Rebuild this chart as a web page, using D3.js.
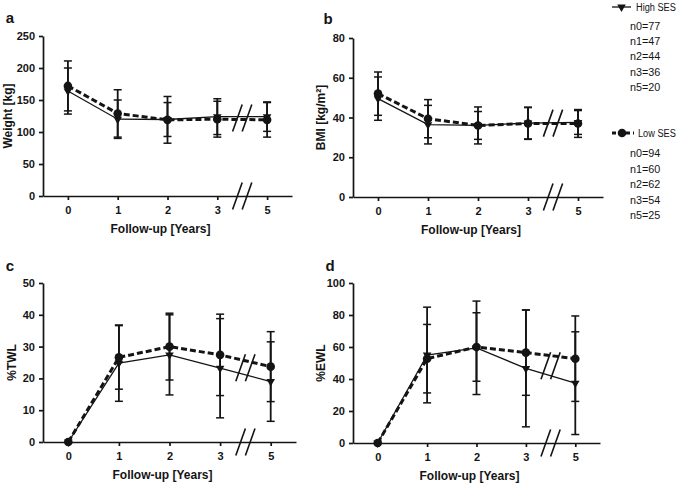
<!DOCTYPE html>
<html><head><meta charset="utf-8">
<script src="https://cdn.jsdelivr.net/npm/d3@7"></script>
<style>body{margin:0;background:#fff}svg{display:block}</style>
</head><body>
<script>
// ---- data ----
const years = ["0","1","2","3","5"];
const weightTicks = [0,50,100,150,200,250];
const bmiTicks = [0,20,40,60,80];
const twlTicks = [0,10,20,30,40,50];
const ewlTicks = [0,20,40,60,80,100];

const weightHigh = [164,120,119.5,124,124];
const weightHighSD = [36,30,26.5,28,23];
const weightLow = [172,129,119,120,119];
const weightLowSD = [39,37,36.5,28,27];

const bmiHigh = [49.5,36.4,36,37.2,37.5];
const bmiHighSD = [10.9,9.7,7,8,6];
const bmiLow = [52,39.4,36,37,37];
const bmiLowSD = [10.9,9.6,9.3,8,7];

const twlHigh = [0,24.8,27.4,23.2,19.0];
const twlHighSD = [0,12,12.6,15.6,12.5];
const twlLow = [0,26.6,30.0,27.4,23.7];
const twlLowSD = [0,10,10.5,12.8,11];

const ewlHigh = [0,55,59.5,46.6,37.4];
const ewlHighSD = [0,29.9,29.2,36.5,32.1];
const ewlLow = [0,52.7,60,56.5,52.7];
const ewlLowSD = [0,21.4,21.4,26.7,26.7];

const nLabels = ["n0","n1","n2","n3","n5"];
const nHigh = [77,47,44,36,20];
const nLow = [94,60,62,54,25];

// ---- drawing ----
const FONT = "'Liberation Sans', Arial, Helvetica, sans-serif";
const INK = "#141414";
const svg = d3.select("body").append("svg").attr("width",677).attr("height",483);

function panel(cfg){
  const g = svg.append("g");
  const x = d3.scalePoint().domain(years).range([cfg.x0, cfg.x1]).padding(0.5);
  const y = d3.scaleLinear().domain([0, d3.max(cfg.ticks)]).range([cfg.yb, cfg.yt]);

  const xa = g.append("g").attr("transform",`translate(0,${cfg.yb})`)
    .call(d3.axisBottom(x).tickSize(4).tickPadding(6).tickSizeOuter(0));
  const ya = g.append("g").attr("transform",`translate(${cfg.x0},0)`)
    .call(d3.axisLeft(y).tickValues(cfg.ticks).tickSize(4).tickPadding(4).tickSizeOuter(0));
  [xa,ya].forEach(a=>{
    a.selectAll("path,line").attr("stroke",INK).attr("stroke-width",1.7);
    a.selectAll("text").attr("font-family",FONT).attr("font-weight","bold")
      .attr("font-size",11).attr("fill",INK);
  });

  g.append("text").attr("x",(cfg.x0+cfg.x1)/2-7).attr("y",cfg.yb+33)
    .attr("text-anchor","middle").attr("dominant-baseline","central")
    .attr("font-family",FONT).attr("font-weight","bold").attr("font-size",12).attr("fill",INK)
    .text("Follow-up [Years]");
  g.append("text").attr("transform",`translate(${cfg.ylx},${(cfg.yb+cfg.yt)/2}) rotate(-90)`)
    .attr("text-anchor","middle").attr("dominant-baseline","central")
    .attr("font-family",FONT).attr("font-weight","bold").attr("font-size",12).attr("fill",INK)
    .text(cfg.ylabel);
  g.append("text").attr("x",cfg.lx).attr("y",cfg.ly)
    .attr("text-anchor","middle").attr("dominant-baseline","central")
    .attr("font-family",FONT).attr("font-weight","bold").attr("font-size",15).attr("fill",INK)
    .text(cfg.letter);

  const series = [
    {m:cfg.low, sd:cfg.lowSD, dash:"6,3", w:3, mark:"circle"},
    {m:cfg.high, sd:cfg.highSD, dash:null, w:1.3, mark:"tri"}
  ];
  series.forEach(s=>{
    const eb = g.append("g");
    years.forEach((yr,i)=>{
      if(!(s.sd[i]>0)) return;
      const cx = x(yr), top = y(s.m[i]+s.sd[i]), bot = y(s.m[i]-s.sd[i]);
      eb.append("line").attr("x1",cx).attr("x2",cx).attr("y1",top).attr("y2",bot)
        .attr("stroke",INK).attr("stroke-width",1.8);
      [top,bot].forEach(v=>eb.append("line").attr("x1",cx-4).attr("x2",cx+4)
        .attr("y1",v).attr("y2",v).attr("stroke",INK).attr("stroke-width",1.5));
    });
  });
  series.forEach(s=>{
    const line = d3.line().x((d,i)=>x(years[i])).y(d=>y(d));
    g.append("path").datum(s.m).attr("d",line).attr("fill","none")
      .attr("stroke",INK).attr("stroke-width",s.w)
      .attr("stroke-dasharray",s.dash);
  });
  series.forEach(s=>{
    s.m.forEach((v,i)=>{
      if(s.mark==="circle"){
        g.append("circle").attr("cx",x(years[i])).attr("cy",y(v)).attr("r",4.3).attr("fill",INK);
      } else {
        g.append("path").attr("d",d3.symbol(d3.symbolTriangle,32)())
          .attr("transform",`translate(${x(years[i])},${y(v)}) rotate(180)`).attr("fill",INK);
      }
    });
  });
  const bx = (x("3")+x("5"))/2;
  const by = y((cfg.low[3]+cfg.low[4]+cfg.high[3]+cfg.high[4])/4);
  [by, cfg.yb].forEach(cy=>{
    [-4.8,4.8].forEach(off=>{
      g.append("line").attr("x1",bx+off-4.8).attr("y1",cy+13.5)
        .attr("x2",bx+off+4.8).attr("y2",cy-13.5)
        .attr("stroke",INK).attr("stroke-width",1.6);
    });
  });
}

panel({x0:43,x1:292,yb:196,yt:36,ticks:weightTicks,ylabel:"Weight [kg]",ylx:8,letter:"a",lx:10,ly:17,
  high:weightHigh,highSD:weightHighSD,low:weightLow,lowSD:weightLowSD});
panel({x0:353,x1:603,yb:197,yt:38,ticks:bmiTicks,ylabel:"BMI [kg/m²]",ylx:321,letter:"b",lx:328,ly:18,
  high:bmiHigh,highSD:bmiHighSD,low:bmiLow,lowSD:bmiLowSD});
panel({x0:43,x1:296,yb:442,yt:283,ticks:twlTicks,ylabel:"%TWL",ylx:12,letter:"c",lx:10,ly:265,
  high:twlHigh,highSD:twlHighSD,low:twlLow,lowSD:twlLowSD});
panel({x0:353,x1:600,yb:443,yt:283,ticks:ewlTicks,ylabel:"%EWL",ylx:321,letter:"d",lx:330,ly:265,
  high:ewlHigh,highSD:ewlHighSD,low:ewlLow,lowSD:ewlLowSD});

// legend
const lg = svg.append("g");
lg.append("line").attr("x1",612).attr("x2",631).attr("y1",7).attr("y2",7).attr("stroke",INK).attr("stroke-width",1.3);
lg.append("path").attr("d",d3.symbol(d3.symbolTriangle,32)()).attr("transform","translate(621.5,7) rotate(180)").attr("fill",INK);
lg.append("text").attr("transform","translate(636,7) scale(0.8,1)").attr("dominant-baseline","central")
  .attr("font-family",FONT).attr("font-size",11.5).attr("fill",INK).text("High SES");
nLabels.forEach((l,i)=>{
  lg.append("text").attr("x",630).attr("y",26+15.2*i).attr("dominant-baseline","central")
    .attr("font-family",FONT).attr("font-size",10.8).attr("fill",INK).text(`${l}=${nHigh[i]}`);
});
lg.append("line").attr("x1",612).attr("x2",634).attr("y1",133).attr("y2",133).attr("stroke",INK)
  .attr("stroke-width",3).attr("stroke-dasharray","4,3");
lg.append("circle").attr("cx",622).attr("cy",133).attr("r",4.3).attr("fill",INK);
lg.append("text").attr("transform","translate(638,133) scale(0.8,1)").attr("dominant-baseline","central")
  .attr("font-family",FONT).attr("font-size",11.5).attr("fill",INK).text("Low SES");
nLabels.forEach((l,i)=>{
  lg.append("text").attr("x",630).attr("y",153+15.5*i).attr("dominant-baseline","central")
    .attr("font-family",FONT).attr("font-size",10.8).attr("fill",INK).text(`${l}=${nLow[i]}`);
});
</script>
</body></html>
